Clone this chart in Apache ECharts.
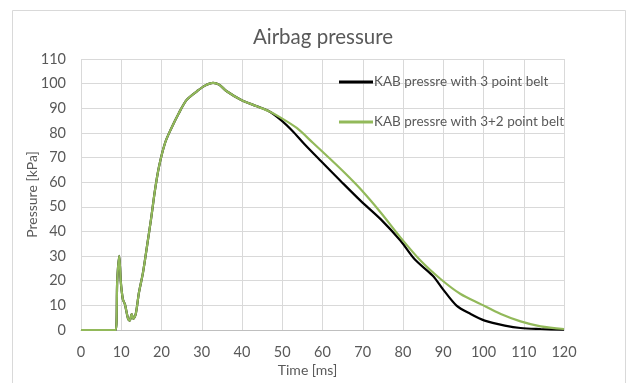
<!DOCTYPE html>
<html>
<head>
<meta charset="utf-8">
<script src="https://cdn.jsdelivr.net/npm/echarts@6/dist/echarts.min.js"></script>
<style>
  html, body { margin: 0; padding: 0; background: #fff; }
  #chart { width: 627px; height: 383px; }
</style>
</head>
<body>
<div id="chart"></div>
<script>
// Airbag pressure traces (time in ms, pressure in kPa)
const timeTicks = [0, 10, 20, 30, 40, 50, 60, 70, 80, 90, 100, 110, 120];
const pressureTicks = [0, 10, 20, 30, 40, 50, 60, 70, 80, 90, 100, 110];

// Shared inflation phase (both configurations overlap up to ~46 ms)
const commonTime = [0, 8.6, 9.0, 9.5, 9.9, 10.4, 10.9, 11.7, 12.1, 12.6, 13.0, 13.6, 14.4, 15.4, 16.4, 17.4, 18.4, 19.4, 20.9, 22.3, 24.3, 26.3, 28.8, 30.8, 32.8, 34.3, 36.2, 39.7, 43.7, 46.7];
const commonPressure = [0, 0, 20, 30.1, 19.3, 12.5, 10.5, 4.5, 3.8, 6.5, 4.5, 6.5, 15.2, 23.3, 34, 45, 57, 66.5, 76, 81.4, 88, 93.5, 96.9, 99.2, 100.3, 99.6, 96.9, 93.5, 90.8, 88.8];

// Deflation phase, 3 point belt
const belt3Time = [49.7, 52.6, 55.6, 59.6, 64.5, 69.5, 74.5, 79.4, 82.9, 87.4, 89.9, 93.3, 96.8, 100.3, 105.3, 109.2, 114.2, 120];
const belt3Pressure = [85.2, 80.7, 75.3, 68.6, 60.5, 52.4, 44.9, 36.2, 28.7, 22, 16.6, 9.9, 6.5, 3.8, 1.8, 0.8, 0.4, 0.1];

// Deflation phase, 3+2 point belt
const belt32Time = [49.7, 53.6, 57.6, 61.6, 65.5, 69.5, 74.5, 79.4, 84.4, 89.4, 94.3, 99.3, 104.3, 109.2, 114.2, 120];
const belt32Pressure = [86.1, 82, 76, 69.9, 63.8, 57.1, 47.6, 37.5, 28.1, 20.6, 14.6, 10.5, 6.5, 3.5, 1.5, 0.4];

const seriesNames = ['KAB pressre with 3 point belt', 'KAB pressre with 3+2 point belt'];

function pairs(t, p) { return t.map((x, i) => [x, p[i]]); }

const belt3Data = pairs(commonTime.concat(belt3Time), commonPressure.concat(belt3Pressure));
const belt32Data = pairs(commonTime.concat(belt32Time), commonPressure.concat(belt32Pressure));

const textColor = '#595959';
const fontFamily = 'Lato, "Open Sans", sans-serif';

const chart = echarts.init(document.getElementById('chart'), null, { renderer: 'canvas' });
chart.setOption({
  backgroundColor: '#fff',
  animation: false,
  textStyle: { fontFamily: fontFamily },
  graphic: [{
    type: 'rect',
    shape: { x: 12.5, y: 10.5, width: 613, height: 380 },
    style: { fill: 'none', stroke: '#d9d9d9', lineWidth: 1 },
    silent: true,
    z: -1
  }],
  title: {
    text: 'Airbag pressure',
    left: 318,
    textAlign: 'center',
    top: 22,
    textStyle: { fontSize: 20.5, fontWeight: 'normal', color: textColor, fontFamily: fontFamily }
  },
  grid: { left: 81, right: 63, top: 59, bottom: 53 },
  legend: {
    orient: 'vertical',
    left: 334,
    top: 70,
    itemWidth: 34,
    itemHeight: 3,
    itemGap: 26,
    icon: 'rect',
    textStyle: { fontSize: 13.5, color: textColor, fontFamily: fontFamily, padding: [0, 0, 0, -4] },
    data: seriesNames
  },
  xAxis: {
    type: 'value',
    min: 0, max: 120, interval: 10,
    name: 'Time [ms]',
    nameLocation: 'middle',
    nameGap: 33,
    nameMoveOverlap: false,
    nameTextStyle: { fontSize: 14, color: textColor, padding: [0, 30, 0, 0] },
    axisLine: { show: true, lineStyle: { color: '#bfbfbf' } },
    axisTick: { show: false },
    axisLabel: { fontSize: 14.5, color: textColor, margin: 15,
      formatter: v => timeTicks.includes(v) ? String(v) : '' },
    splitLine: { show: true, lineStyle: { color: '#d9d9d9' } }
  },
  yAxis: {
    type: 'value',
    min: 0, max: 110, interval: 10,
    name: 'Pressure [kPa]',
    nameLocation: 'middle',
    nameGap: 42,
    nameMoveOverlap: false,
    nameTextStyle: { fontSize: 14, color: textColor },
    axisLine: { show: false },
    axisTick: { show: false },
    axisLabel: { fontSize: 14.5, color: textColor, margin: 15,
      formatter: v => pressureTicks.includes(v) ? String(v) : '' },
    splitLine: { show: true, lineStyle: { color: '#d9d9d9' } }
  },
  series: [
    {
      name: seriesNames[0],
      type: 'line',
      data: belt3Data,
      showSymbol: false,
      smooth: 0.3,
      color: '#000000',
      lineStyle: { width: 2.2, color: '#000000' },
      z: 2
    },
    {
      name: seriesNames[1],
      type: 'line',
      data: belt32Data,
      showSymbol: false,
      smooth: 0.3,
      color: '#92b95a',
      lineStyle: { width: 2.2, color: '#92b95a' },
      z: 3
    }
  ]
});
</script>
</body>
</html>
